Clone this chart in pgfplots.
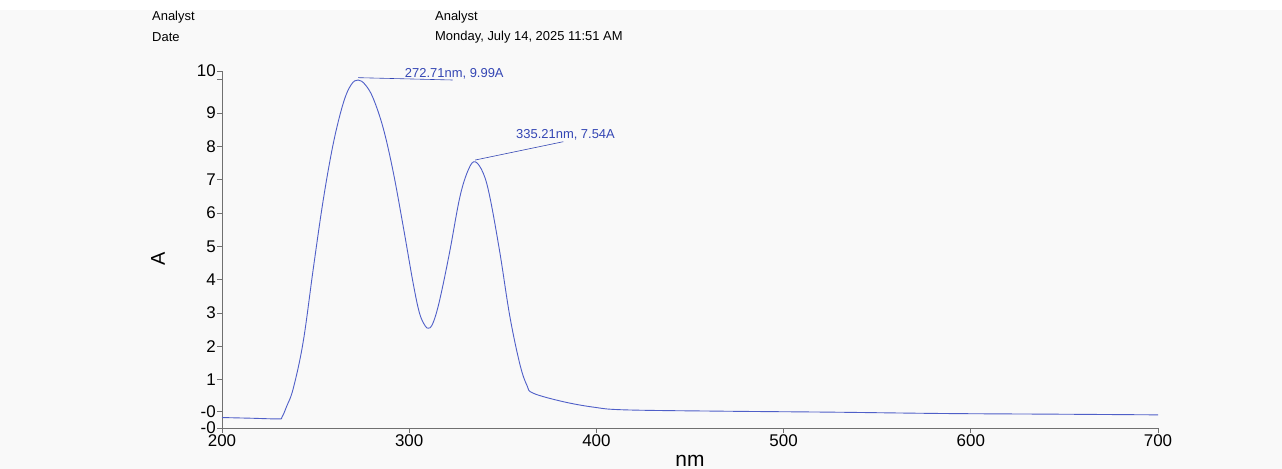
\documentclass[border=0pt]{standalone}
\usepackage{fontspec}
\setmainfont{Liberation Sans}
\usepackage{pgfplots}
\pgfplotsset{compat=1.18}
\definecolor{bgc}{HTML}{F9F9F9}
\definecolor{spec}{HTML}{4F5FC8}
\definecolor{annot}{HTML}{3446B4}
\definecolor{axc}{HTML}{707070}

\begin{document}
\begin{tikzpicture}[x=1bp,y=1bp]
\clip (0,0) rectangle (1282,-469);
\fill[white] (0,0) rectangle (1282,-469);
\fill[bgc] (0,-10) rectangle (1282,-469);

% header block
\begin{scope}[every node/.style={anchor=west, inner sep=0pt, font=\fontsize{13}{15}\selectfont}]
\node at (152,-17) {Analyst};
\node at (152,-37) {Date};
\node at (435,-17) {Analyst};
\node at (435,-37) {Monday, July 14, 2025 11:51 AM};
\end{scope}

\begin{axis}[at={(222bp,-428bp)}, anchor=south west,
  scale only axis, width=936bp, height=357bp,
  xmin=200, xmax=700, ymin=-0.444, ymax=10.26,
  axis x line*=bottom, axis y line*=left,
  axis line style={axc, line width=0.8bp, -},
  tick style={axc, line width=0.8bp},
  tick align=outside, major tick length=5bp,
  xtick={200,300,400,500,600,700},
  xticklabels={200,300,400,500,600,700},
  ytick={-0.444,0.04,1,2,3,4,5,6,7,8,9,10,10.26},
  yticklabels={-0,-0,1,2,3,4,5,6,7,8,9,,10},
  ticklabel style={font=\fontsize{17}{17}\selectfont, inner sep=1bp},
  xlabel={nm}, ylabel={A},
  xlabel style={font=\fontsize{21}{21}\selectfont,
    at={(axis description cs:0.5,-0.0924)}, anchor=center},
  ylabel style={font=\fontsize{20}{20}\selectfont,
    at={(axis description cs:-0.0684,0.475)}, anchor=center},
  clip=false]

\addplot[spec, line width=0.9bp, smooth, tension=0.6] coordinates {
  (200,-0.13) (215,-0.15) (230,-0.17) (232,-0.12) (234.5,0.20) (238.1,0.75)
  (243.4,2.15) (248.8,4.35) (254.1,6.40) (259.5,8.10) (264.8,9.30)
  (269,9.85) (272.71,9.99) (276.5,9.85) (280.7,9.45) (286.1,8.55)
  (291.4,7.25) (296.8,5.60) (302.1,3.90) (305.5,3.00) (308.5,2.62) (310.2,2.55)
  (312,2.62) (314.5,3.00) (317.5,3.70) (321.8,4.89) (327.1,6.49) (331.6,7.30)
  (335.21,7.54) (339.6,7.19) (343.2,6.45) (348.5,4.79) (353.8,2.89)
  (359.2,1.45) (363,0.82) (366.2,0.60) (381.9,0.35) (398.6,0.18)
  (415.3,0.10) (467.7,0.06) (527.3,0.03) (586.9,-0.01) (646.6,-0.03)
  (700,-0.05)
};

% peak labels
\draw[annot, line width=0.6bp] (axis cs:272.71,10.06) -- (axis cs:323.2,9.99);
\node[annot, inner sep=0pt, font=\fontsize{13}{13}\selectfont]
  at (axis cs:324.1,10.17) {272.71nm, 9.99A};
\draw[annot, line width=0.6bp] (axis cs:335.21,7.59) -- (axis cs:382.3,8.14);
\node[annot, inner sep=0pt, font=\fontsize{13}{13}\selectfont]
  at (axis cs:383.5,8.34) {335.21nm, 7.54A};
\end{axis}
\end{tikzpicture}
\end{document}
